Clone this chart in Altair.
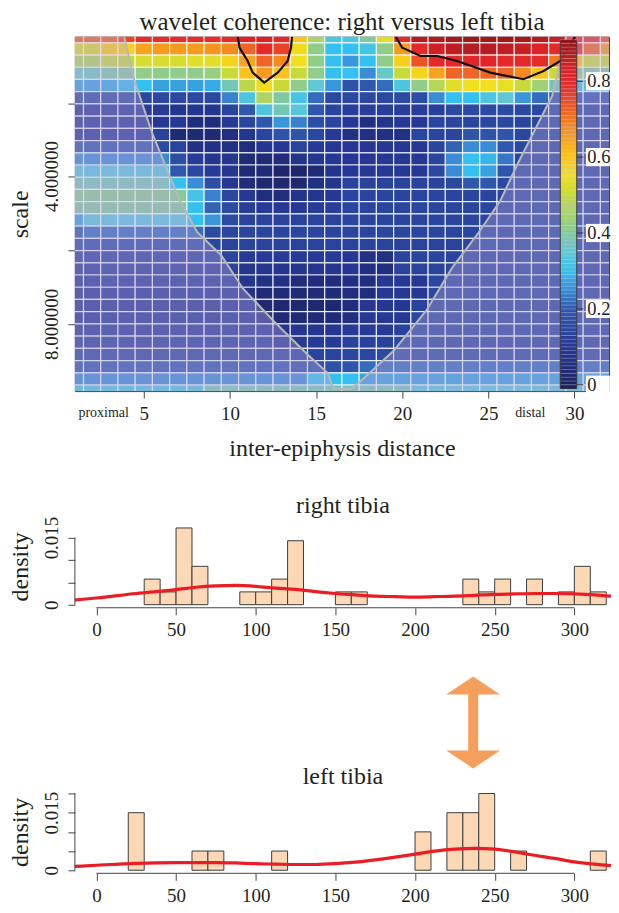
import altair as alt
import pandas as pd

FONT = "Liberation Serif"
INK = "#231f20"
AXC = "#444444"

# ---------------- wavelet coherence grid (30 scales x 32 positions) ----------------
coherence = [
    [0.72,0.72,0.72,0.76,0.79,0.79,0.79,0.79,0.79,0.80,0.82,0.83,0.80,0.60,0.45,0.33,0.33,0.40,0.53,0.80,0.87,0.88,0.89,0.90,0.90,0.90,0.89,0.87,0.85,0.80,0.78,0.74],
    [0.52,0.52,0.58,0.58,0.65,0.66,0.66,0.66,0.67,0.68,0.72,0.80,0.76,0.56,0.42,0.30,0.30,0.32,0.42,0.66,0.80,0.84,0.86,0.87,0.87,0.86,0.85,0.82,0.80,0.78,0.72,0.66],
    [0.46,0.46,0.49,0.49,0.52,0.52,0.52,0.53,0.53,0.57,0.65,0.72,0.68,0.55,0.42,0.30,0.26,0.30,0.42,0.58,0.74,0.80,0.80,0.81,0.81,0.80,0.80,0.79,0.70,0.60,0.50,0.50],
    [0.37,0.37,0.39,0.40,0.42,0.42,0.42,0.42,0.43,0.50,0.60,0.66,0.60,0.50,0.42,0.30,0.30,0.25,0.36,0.50,0.57,0.65,0.72,0.72,0.72,0.72,0.68,0.60,0.50,0.42,0.40,0.40],
    [0.27,0.27,0.28,0.29,0.30,0.27,0.27,0.27,0.28,0.38,0.48,0.56,0.50,0.42,0.35,0.26,0.18,0.20,0.22,0.33,0.42,0.47,0.53,0.55,0.55,0.54,0.50,0.44,0.38,0.32,0.30,0.28],
    [0.17,0.17,0.17,0.17,0.15,0.15,0.15,0.15,0.15,0.24,0.33,0.46,0.40,0.32,0.22,0.15,0.15,0.15,0.15,0.16,0.17,0.25,0.30,0.30,0.33,0.35,0.26,0.22,0.20,0.20,0.20,0.20],
    [0.12,0.12,0.12,0.12,0.12,0.11,0.09,0.09,0.09,0.14,0.20,0.33,0.38,0.34,0.20,0.14,0.12,0.12,0.12,0.12,0.12,0.12,0.16,0.16,0.16,0.16,0.15,0.15,0.15,0.15,0.15,0.15],
    [0.12,0.12,0.12,0.12,0.12,0.10,0.10,0.05,0.05,0.10,0.14,0.20,0.26,0.24,0.17,0.14,0.10,0.06,0.08,0.10,0.10,0.14,0.14,0.14,0.15,0.15,0.14,0.15,0.15,0.15,0.15,0.15],
    [0.12,0.12,0.12,0.12,0.12,0.13,0.04,0.04,0.04,0.06,0.09,0.14,0.19,0.19,0.15,0.11,0.07,0.07,0.07,0.07,0.14,0.14,0.14,0.19,0.19,0.19,0.15,0.15,0.15,0.15,0.15,0.15],
    [0.20,0.20,0.20,0.20,0.20,0.16,0.13,0.07,0.07,0.07,0.05,0.09,0.10,0.13,0.11,0.10,0.10,0.10,0.10,0.10,0.10,0.14,0.21,0.25,0.25,0.20,0.15,0.15,0.15,0.15,0.15,0.15],
    [0.25,0.25,0.25,0.25,0.25,0.25,0.17,0.11,0.09,0.09,0.04,0.04,0.05,0.08,0.09,0.10,0.10,0.10,0.10,0.10,0.10,0.14,0.25,0.30,0.29,0.23,0.15,0.15,0.15,0.15,0.15,0.15],
    [0.34,0.34,0.34,0.34,0.34,0.34,0.20,0.15,0.11,0.09,0.04,0.04,0.02,0.02,0.04,0.08,0.10,0.10,0.10,0.10,0.10,0.15,0.25,0.30,0.27,0.19,0.15,0.15,0.15,0.15,0.15,0.15],
    [0.38,0.38,0.38,0.38,0.38,0.38,0.30,0.25,0.17,0.10,0.05,0.03,0.03,0.03,0.07,0.09,0.13,0.13,0.13,0.13,0.13,0.13,0.15,0.20,0.20,0.16,0.15,0.15,0.15,0.15,0.15,0.15],
    [0.41,0.41,0.41,0.41,0.41,0.41,0.41,0.32,0.24,0.15,0.10,0.05,0.05,0.08,0.09,0.10,0.14,0.14,0.14,0.14,0.14,0.14,0.14,0.14,0.14,0.14,0.15,0.15,0.15,0.15,0.15,0.15],
    [0.40,0.40,0.40,0.40,0.40,0.40,0.40,0.30,0.21,0.16,0.12,0.11,0.10,0.10,0.11,0.12,0.14,0.14,0.14,0.14,0.14,0.14,0.14,0.14,0.14,0.15,0.15,0.15,0.15,0.15,0.15,0.15],
    [0.27,0.34,0.34,0.34,0.34,0.34,0.34,0.30,0.26,0.16,0.13,0.13,0.13,0.13,0.13,0.13,0.14,0.14,0.14,0.14,0.14,0.14,0.14,0.14,0.14,0.15,0.15,0.15,0.15,0.15,0.15,0.15],
    [0.20,0.22,0.22,0.22,0.22,0.22,0.22,0.22,0.16,0.14,0.14,0.14,0.14,0.14,0.14,0.14,0.14,0.14,0.14,0.14,0.14,0.14,0.14,0.14,0.15,0.15,0.15,0.15,0.15,0.15,0.15,0.15],
    [0.17,0.17,0.17,0.17,0.17,0.17,0.17,0.17,0.15,0.13,0.13,0.13,0.13,0.13,0.13,0.13,0.13,0.13,0.13,0.13,0.13,0.13,0.13,0.14,0.15,0.15,0.15,0.15,0.15,0.15,0.15,0.15],
    [0.14,0.14,0.14,0.14,0.14,0.14,0.14,0.14,0.14,0.14,0.11,0.11,0.11,0.11,0.11,0.11,0.10,0.07,0.07,0.14,0.14,0.14,0.14,0.15,0.15,0.15,0.15,0.15,0.15,0.15,0.15,0.15],
    [0.13,0.13,0.13,0.13,0.13,0.13,0.13,0.13,0.13,0.13,0.09,0.09,0.09,0.09,0.09,0.09,0.09,0.06,0.06,0.13,0.13,0.13,0.15,0.15,0.15,0.15,0.15,0.15,0.15,0.15,0.15,0.15],
    [0.12,0.12,0.12,0.12,0.12,0.12,0.12,0.12,0.12,0.12,0.09,0.07,0.07,0.05,0.05,0.05,0.06,0.06,0.10,0.10,0.10,0.15,0.15,0.15,0.15,0.15,0.15,0.15,0.15,0.15,0.15,0.15],
    [0.11,0.11,0.11,0.11,0.11,0.11,0.11,0.11,0.11,0.11,0.08,0.04,0.04,0.04,0.04,0.04,0.05,0.05,0.10,0.10,0.10,0.15,0.15,0.15,0.15,0.15,0.15,0.15,0.15,0.15,0.15,0.15],
    [0.11,0.11,0.11,0.11,0.11,0.11,0.11,0.11,0.11,0.11,0.11,0.03,0.03,0.03,0.03,0.03,0.05,0.10,0.10,0.10,0.13,0.15,0.15,0.15,0.15,0.15,0.15,0.15,0.15,0.15,0.15,0.15],
    [0.11,0.11,0.11,0.11,0.11,0.11,0.11,0.11,0.11,0.11,0.11,0.08,0.04,0.04,0.04,0.04,0.06,0.10,0.10,0.10,0.15,0.15,0.15,0.15,0.15,0.15,0.15,0.15,0.15,0.15,0.15,0.15],
    [0.12,0.12,0.12,0.12,0.12,0.12,0.12,0.12,0.12,0.12,0.12,0.12,0.09,0.09,0.09,0.09,0.11,0.11,0.11,0.13,0.15,0.15,0.15,0.15,0.15,0.15,0.15,0.15,0.15,0.15,0.15,0.15],
    [0.13,0.13,0.13,0.13,0.13,0.13,0.13,0.13,0.13,0.13,0.13,0.13,0.11,0.11,0.11,0.11,0.13,0.13,0.13,0.15,0.15,0.15,0.15,0.15,0.15,0.15,0.15,0.15,0.15,0.15,0.15,0.15],
    [0.15,0.15,0.15,0.15,0.15,0.15,0.15,0.15,0.15,0.15,0.15,0.15,0.15,0.14,0.14,0.14,0.15,0.15,0.16,0.16,0.16,0.16,0.16,0.16,0.16,0.16,0.16,0.16,0.16,0.16,0.16,0.16],
    [0.20,0.20,0.20,0.20,0.20,0.20,0.20,0.20,0.20,0.20,0.20,0.20,0.20,0.18,0.18,0.18,0.19,0.22,0.22,0.22,0.22,0.22,0.22,0.22,0.22,0.22,0.22,0.22,0.22,0.22,0.22,0.22],
    [0.25,0.25,0.25,0.25,0.25,0.25,0.25,0.25,0.25,0.25,0.25,0.25,0.25,0.25,0.30,0.30,0.30,0.27,0.27,0.27,0.27,0.27,0.27,0.27,0.27,0.27,0.27,0.27,0.27,0.27,0.27,0.27],
    [0.33,0.33,0.33,0.33,0.33,0.33,0.33,0.33,0.38,0.38,0.38,0.38,0.38,0.38,0.38,0.38,0.38,0.38,0.38,0.38,0.34,0.34,0.34,0.34,0.34,0.34,0.34,0.34,0.34,0.34,0.34,0.34],
]

dist_ticks = [5, 10, 15, 20, 25, 30]
scale_tick_rows = [6.45, 12.4, 18.45, 24.5]
scale_tick_labels = ["", "4.000000", "", "8.000000"]

# cone of influence (position, scale-row); beyond the first/last points it lies above the plot
coi_x = [1.0, 3.3, 3.86, 4.44, 5.44, 6.5, 7.1, 8.1, 9.5, 10.75, 12.56, 14.5, 15.66, 16.0,
         17.0, 17.5, 19.5, 21.4, 22.9, 24.4, 25.7, 26.7, 28.7, 29.5, 30.1, 32.0]
coi_row = [-3.0, -3.0, 1.0, 4.5, 8.7, 12.4, 14.4, 17.0, 18.9, 21.6, 24.3, 27.0, 28.5, 29.8,
           29.8, 29.3, 26.7, 23.4, 19.9, 17.1, 14.4, 11.4, 5.85, 1.0, -3.0, -3.0]

# significance contours
contour_left_x = [10.46, 10.55, 11.03, 11.32, 11.99, 12.77, 13.35, 13.54, 13.60]
contour_left_row = [1.0, 1.9, 2.99, 3.94, 4.76, 3.94, 2.99, 1.9, 1.0]
contour_right_x = [19.62, 20.0, 21.06, 22.03, 23.19, 25.11, 27.04, 28.2, 29.17, 30.03]
contour_right_row = [1.0, 1.9, 2.58, 2.58, 2.99, 3.94, 4.48, 3.8, 2.99, 1.0]

# colour palette
pal_stops = [0.0, 0.1, 0.2, 0.25, 0.3, 0.35, 0.4, 0.45, 0.5, 0.55, 0.6, 0.67, 0.72, 0.78, 0.82, 0.9]
pal_colors = ["#1c2262", "#263894", "#2f58ac", "#3a8cd6", "#34c0f0", "#60c8d4", "#80c8a0",
              "#a8d468", "#c8da3a", "#f0e01e", "#fcc41a", "#f7941e", "#f06424", "#e83028",
              "#e02228", "#9a1a1c"]
cb_ticks = [0.0, 0.2, 0.4, 0.6, 0.8]
cb_labels = ["0", "0.2", "0.4", "0.6", "0.8"]
cb_range = [-0.01, 0.905]
cb_xpos = [29.17, 30.13]

# ---------------- histograms ----------------
right_bin_start = [30, 40, 50, 60, 90, 100, 110, 120, 150, 160, 230, 240, 250, 270, 290, 300, 310]
right_counts = [2, 1, 6, 3, 1, 1, 2, 5, 1, 1, 2, 1, 2, 2, 1, 3, 1]
left_bin_start = [20, 60, 70, 110, 200, 220, 230, 240, 260, 310]
left_counts = [3, 1, 1, 1, 2, 3, 3, 4, 1, 1]
bin_width = 10

dens_x = [-13.5, 0, 25, 50, 62.5, 75, 87.5, 100, 112.5, 125, 137.5, 150, 162.5, 175, 187.5,
          200, 212.5, 225, 237.5, 250, 262.5, 275, 287.5, 300, 312.5, 323]
right_dens = [0.00105, 0.0015, 0.0025, 0.00336, 0.0039, 0.0042, 0.0043, 0.0041, 0.0037, 0.0034,
              0.0029, 0.0025, 0.0022, 0.0019, 0.0018, 0.0017, 0.0018, 0.0019, 0.0021, 0.0023,
              0.0024, 0.0025, 0.0025, 0.0024, 0.0022, 0.0019]
left_dens = [0.0010, 0.0013, 0.0018, 0.0020, 0.0020, 0.0020, 0.0019, 0.0017, 0.0016, 0.0015,
             0.0015, 0.0017, 0.0021, 0.0027, 0.0034, 0.0042, 0.0050, 0.0055, 0.0057, 0.0055,
             0.0048, 0.0039, 0.0031, 0.0022, 0.0016, 0.0012]

pos_ticks = [0, 50, 100, 150, 200, 250, 300]
right_y_ticks = [0, 0.005, 0.010, 0.015]
right_y_labels = ["0", "", "", "0.015"]
left_y_ticks = [0, 0.005, 0.010, 0.015, 0.020]
left_y_labels = ["0", "", "", "0.015", ""]

arrow_pos = [236.5]
arrow_level = [0.371]

HX = [-13.5, 323.0]
W_HEAT, H_HEAT = 535, 355
W_HIST, H_HIST = 537, 83
TITLE_FS, AXTITLE_FS, LABEL_FS = 25, 24, 19


def label_expr(values, labels):
    expr = "''"
    for v, l in reversed(list(zip(values, labels))):
        expr = f"(abs(datum.value - {v}) < 1e-6 ? '{l}' : {expr})"
    return expr


color_scale = alt.Scale(domain=pal_stops, range=pal_colors, interpolate="rgb", clamp=True)

recs = []
for r, row in enumerate(coherence, start=1):
    for c, v in enumerate(row, start=1):
        recs.append({"x0": c - 0.5, "x1": c + 0.5, "y0": r - 0.5, "y1": r + 0.5, "coh": v})
heat_df = pd.DataFrame(recs)

xs = alt.Scale(domain=[1, 32], nice=False, zero=False)
ys = alt.Scale(domain=[1, 30], reverse=True, nice=False, zero=False)

heat_x_axis = alt.Axis(values=dist_ticks, title="inter-epiphysis distance", domain=False, grid=False,
                       tickSize=7, labelPadding=15, labelBaseline="middle", titleY=57,
                       titleBaseline="middle", titleFontSize=AXTITLE_FS)
heat_y_axis = alt.Axis(values=scale_tick_rows, labelExpr=label_expr(scale_tick_rows, scale_tick_labels),
                       title="scale", domain=False, grid=False, tickSize=7, labelPadding=16,
                       labelAngle=270, labelAlign="center", labelBaseline="middle", titleAngle=270,
                       titleX=-54, titleY=H_HEAT / 2, titleBaseline="middle", titleAlign="center",
                       titleFontSize=AXTITLE_FS)


def hx(field):
    return alt.X(field, scale=xs, axis=heat_x_axis)


def hy(field):
    return alt.Y(field, scale=ys, axis=heat_y_axis)


cells = alt.Chart(heat_df).mark_rect(clip=True, stroke="white", strokeWidth=1.2, strokeOpacity=0.8).encode(
    x=hx("x0:Q"), x2="x1:Q", y=hy("y0:Q"), y2="y1:Q",
    color=alt.Color("coh:Q", scale=color_scale, legend=None),
)

coi_df = pd.DataFrame({"x": coi_x, "row": coi_row, "bottom": [30] * len(coi_x)})
coi_area = alt.Chart(coi_df).mark_area(clip=True, color="#bba4d8", opacity=0.36).encode(
    x=hx("x:Q"), y=hy("row:Q"), y2="bottom:Q")
coi_line = alt.Chart(coi_df).mark_line(clip=True, color="#b8b8b8", strokeWidth=2).encode(
    x=hx("x:Q"), y=hy("row:Q"))

cont_df = pd.DataFrame({
    "x": contour_left_x + contour_right_x,
    "row": contour_left_row + contour_right_row,
    "grp": ["a"] * len(contour_left_x) + ["b"] * len(contour_right_x),
    "seq": list(range(len(contour_left_x))) + list(range(len(contour_right_x))),
})
contours = alt.Chart(cont_df).mark_line(clip=True, color="#111111", strokeWidth=2.2).encode(
    x=hx("x:Q"), y=hy("row:Q"), detail="grp:N", order="seq:Q")

heat_layers = alt.layer(cells, coi_area, coi_line, contours)

# colour bar with its own vertical scale
cb_scale = alt.Scale(domain=[-0.0168, 0.9174], nice=False, zero=False)
step = 0.01
n_steps = int(round((cb_range[1] - cb_range[0]) / step))
cb_df = pd.DataFrame({
    "lo": [cb_range[0] + i * step for i in range(n_steps)],
    "hi": [cb_range[0] + (i + 1) * step for i in range(n_steps)],
    "x0": [cb_xpos[0]] * n_steps, "x1": [cb_xpos[1]] * n_steps,
})
cb_df["mid"] = (cb_df["lo"] + cb_df["hi"]) / 2


def cy(field):
    return alt.Y(field, scale=cb_scale, axis=None)


cb_rects = alt.Chart(cb_df).mark_rect(stroke="white", strokeWidth=0.5, strokeOpacity=0.35).encode(
    x=hx("x0:Q"), x2="x1:Q", y=cy("lo:Q"), y2="hi:Q",
    color=alt.Color("mid:Q", scale=color_scale, legend=None))
cb_frame_df = pd.DataFrame({"x0": [cb_xpos[0]], "x1": [cb_xpos[1]], "lo": [cb_range[0]], "hi": [cb_range[1]]})
cb_frame = alt.Chart(cb_frame_df).mark_rect(fill=None, stroke="#333333", strokeWidth=1).encode(
    x=hx("x0:Q"), x2="x1:Q", y=cy("lo:Q"), y2="hi:Q")
cbt_df = pd.DataFrame({"v": cb_ticks, "lab": cb_labels,
                       "t0": [cb_xpos[1]] * 5, "t1": [30.5] * 5,
                       "b0": [30.66] * 5, "b1": [32.05] * 5, "tx": [30.74] * 5})
cbt_df["vlo"] = cbt_df["v"] - 0.024
cbt_df["vhi"] = cbt_df["v"] + 0.024
cb_tick_rules = alt.Chart(cbt_df).mark_rule(color="#333333", strokeWidth=1).encode(
    x=hx("t0:Q"), x2="t1:Q", y=cy("v:Q"))
cb_boxes = alt.Chart(cbt_df).mark_rect(fill="white").encode(
    x=hx("b0:Q"), x2="b1:Q", y=cy("vlo:Q"), y2="vhi:Q")
cb_text = alt.Chart(cbt_df).mark_text(font=FONT, fontSize=18.5, color=INK, align="left", baseline="middle").encode(
    x=hx("tx:Q"), y=cy("v:Q"), text="lab:N")

end_df = pd.DataFrame({"x": [2.67, 27.43], "lab": ["proximal", "distal"], "lv": [-0.075, -0.075]})
end_text = alt.Chart(end_df).mark_text(font=FONT, fontSize=14, color=INK, baseline="middle").encode(
    x=hx("x:Q"), y=cy("lv:Q"), text="lab:N")

cb_layers = alt.layer(cb_rects, cb_frame, cb_tick_rules, cb_boxes, cb_text, end_text)

heat = alt.layer(heat_layers, cb_layers).resolve_scale(y="independent").properties(
    width=W_HEAT, height=H_HEAT,
    view=alt.ViewBackground(stroke=AXC, strokeWidth=1),
    title=alt.TitleParams("wavelet coherence: right versus left tibia", fontSize=TITLE_FS, font=FONT,
                          fontWeight="normal", color=INK, baseline="bottom", offset=-23),
)


def hist_panel(title, title_offset, starts, counts, dens, yticks, ylabels):
    n = sum(counts)
    d = [c / (n * bin_width) for c in counts]
    ymax = max(d)
    ysc = alt.Scale(domain=[-0.04 * ymax, 1.04 * ymax], nice=False, zero=False)
    hsc = alt.Scale(domain=HX, nice=False, zero=False)
    x_axis = alt.Axis(values=pos_ticks, title=None, domain=False, grid=False, tickSize=7,
                      labelPadding=15, labelBaseline="middle")
    y_axis = alt.Axis(values=yticks, labelExpr=label_expr(yticks, ylabels), title="density",
                      domain=False, grid=False, tickSize=7, labelPadding=16, labelAngle=270,
                      labelAlign="center", labelBaseline="middle", titleAngle=270, titleX=-54,
                      titleY=H_HIST / 2, titleBaseline="middle", titleAlign="center",
                      titleFontSize=AXTITLE_FS)

    def px(f):
        return alt.X(f, scale=hsc, axis=x_axis)

    def py(f):
        return alt.Y(f, scale=ysc, axis=y_axis)

    bdf = pd.DataFrame({"b0": starts, "b1": [s + bin_width for s in starts], "d": d, "z": [0] * len(d)})
    bars = alt.Chart(bdf).mark_rect(fill="#fdd8b5", stroke="#3c3c3c", strokeWidth=1).encode(
        x=px("b0:Q"), x2="b1:Q", y=py("d:Q"), y2="z:Q")
    ldf = pd.DataFrame({"x": dens_x, "y": dens})
    line = alt.Chart(ldf).mark_line(clip=True, color="#ea1d25", strokeWidth=3.2, interpolate="monotone").encode(
        x=px("x:Q"), y=py("y:Q"))
    xaxis_df = pd.DataFrame({"a": [pos_ticks[0]], "b": [pos_ticks[-1]], "y": [-0.04 * ymax]})
    xline = alt.Chart(xaxis_df).mark_rule(color=AXC, strokeWidth=1).encode(
        x=px("a:Q"), x2="b:Q", y=py("y:Q"))
    yaxis_df = pd.DataFrame({"x": [HX[0]], "a": [yticks[0]], "b": [yticks[-1]]})
    yline = alt.Chart(yaxis_df).mark_rule(color=AXC, strokeWidth=1).encode(
        x=px("x:Q"), y=py("a:Q"), y2="b:Q")
    return alt.layer(bars, line, xline, yline).properties(
        width=W_HIST, height=H_HIST,
        title=alt.TitleParams(title, fontSize=AXTITLE_FS, font=FONT, fontWeight="normal", color=INK,
                              baseline="bottom", offset=title_offset))


right = hist_panel("right tibia", -26, right_bin_start, right_counts, right_dens, right_y_ticks, right_y_labels)
left = hist_panel("left tibia", -23, left_bin_start, left_counts, left_dens, left_y_ticks, left_y_labels)

spacer1 = alt.Chart(pd.DataFrame({"v": [0]})).mark_point(opacity=0).encode(
    x=alt.X("v:Q", axis=None), y=alt.Y("v:Q", axis=None)).properties(width=W_HEAT, height=134)

arrow_path = ("M0,-1L0.587,-0.609L0.109,-0.609L0.109,0.609L0.587,0.609L0,1L-0.587,0.609"
              "L-0.109,0.609L-0.109,-0.609L-0.587,-0.609Z")
arrow_df = pd.DataFrame({"x": arrow_pos, "y": arrow_level})
spacer2 = alt.Chart(arrow_df).mark_point(shape=arrow_path, size=8464, filled=True, color="#f4a05c",
                                         opacity=1, strokeWidth=0).encode(
    x=alt.X("x:Q", scale=alt.Scale(domain=HX, nice=False, zero=False), axis=None),
    y=alt.Y("y:Q", scale=alt.Scale(domain=[0, 1], nice=False, zero=False), axis=None),
).properties(width=W_HIST, height=182.7)

chart = alt.vconcat(heat, spacer1, right, spacer2, left, spacing=0, bounds="flush").properties(
    padding=0
).configure_view(stroke=None).configure_axis(
    labelFont=FONT, titleFont=FONT, labelColor=INK, titleColor=INK, tickColor=AXC,
    labelFontSize=LABEL_FS, titleFontWeight="normal", grid=False
).configure_title(font=FONT, fontWeight="normal", color=INK)

chart.save("out.html", embed_options={"renderer": "svg", "actions": False})
